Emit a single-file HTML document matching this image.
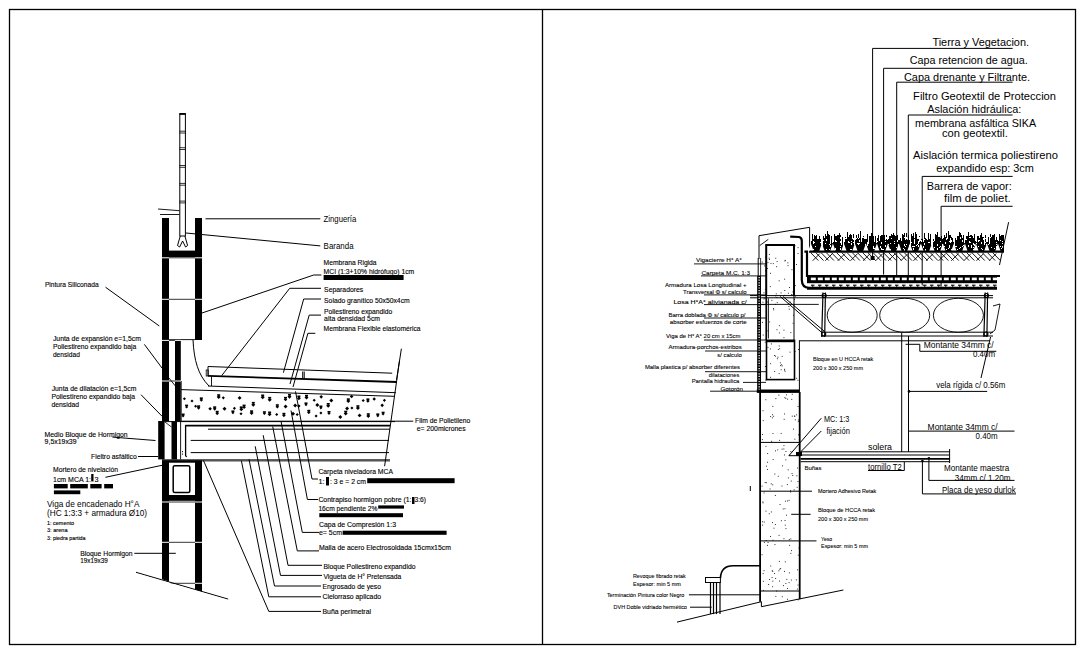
<!DOCTYPE html>
<html><head><meta charset="utf-8"><style>
html,body{margin:0;padding:0;background:#fff;width:1087px;height:656px;overflow:hidden}
svg{display:block}
text{font-family:"Liberation Sans",sans-serif;fill:#000}
.a{stroke:#000;stroke-width:0.12px}
.b{}
.c{stroke:#000;stroke-width:0.08px}
.d{}
</style></head><body>
<svg width="1087" height="656" viewBox="0 0 1087 656">
<rect width="1087" height="656" fill="#fff"/>
<rect x="9.5" y="9.5" width="1066" height="635" fill="none" stroke="#000" stroke-width="1.3" />
<line x1="542.5" y1="9.5" x2="542.5" y2="644.5" stroke="#000" stroke-width="1.3" />
<rect x="179.8" y="113.5" width="5.6" height="122.5" fill="none" stroke="#000" stroke-width="1" />
<line x1="179.5" y1="114.2" x2="185.8" y2="114.2" stroke="#000" stroke-width="1.4" />
<line x1="179.5" y1="131.2" x2="185.8" y2="131.2" stroke="#000" stroke-width="0.8" />
<line x1="179.5" y1="133.0" x2="185.8" y2="133.0" stroke="#000" stroke-width="0.8" />
<line x1="179.5" y1="147.7" x2="185.8" y2="147.7" stroke="#000" stroke-width="0.8" />
<line x1="179.5" y1="149.5" x2="185.8" y2="149.5" stroke="#000" stroke-width="0.8" />
<line x1="179.5" y1="165.5" x2="185.8" y2="165.5" stroke="#000" stroke-width="0.8" />
<line x1="179.5" y1="167.3" x2="185.8" y2="167.3" stroke="#000" stroke-width="0.8" />
<line x1="179.5" y1="183.4" x2="185.8" y2="183.4" stroke="#000" stroke-width="0.8" />
<line x1="179.5" y1="185.20000000000002" x2="185.8" y2="185.20000000000002" stroke="#000" stroke-width="0.8" />
<line x1="179.5" y1="201.1" x2="185.8" y2="201.1" stroke="#000" stroke-width="0.8" />
<line x1="179.5" y1="202.9" x2="185.8" y2="202.9" stroke="#000" stroke-width="0.8" />
<path d="M180.3,236 L177.5,245.5 L179.6,247 L182.6,241 L185.6,247 L187.6,245.5 L184.9,236" stroke="#000" stroke-width="1" fill="none" />
<line x1="158" y1="209" x2="179.5" y2="210.7" stroke="#000" stroke-width="0.9" />
<line x1="160" y1="214.5" x2="179.5" y2="214.5" stroke="#000" stroke-width="0.9" />
<rect x="162" y="218" width="7" height="122" fill="#000" stroke="none" stroke-width="1" />
<rect x="195" y="218" width="7" height="122" fill="#000" stroke="none" stroke-width="1" />
<rect x="169" y="250.6" width="26" height="6.6" fill="#000" stroke="none" stroke-width="1" />
<line x1="162" y1="257.8" x2="202" y2="257.8" stroke="#fff" stroke-width="1" />
<line x1="169" y1="257.8" x2="195" y2="257.8" stroke="#000" stroke-width="0.8" />
<line x1="162" y1="299.3" x2="202" y2="299.3" stroke="#fff" stroke-width="1" />
<line x1="169" y1="299.3" x2="195" y2="299.3" stroke="#000" stroke-width="0.8" />
<rect x="162" y="340" width="7" height="81" fill="#000" stroke="none" stroke-width="1" />
<rect x="175" y="340" width="5.8" height="81" fill="#000" stroke="none" stroke-width="1" />
<line x1="181.2" y1="381" x2="181.2" y2="421" stroke="#000" stroke-width="0.9" />
<line x1="169" y1="339.6" x2="195" y2="339.6" stroke="#000" stroke-width="0.9" />
<line x1="162" y1="340.4" x2="181" y2="340.4" stroke="#fff" stroke-width="1" />
<line x1="169" y1="340.4" x2="175" y2="340.4" stroke="#000" stroke-width="0.8" />
<line x1="162" y1="381.0" x2="181" y2="381.0" stroke="#fff" stroke-width="1" />
<line x1="169" y1="381.0" x2="175" y2="381.0" stroke="#000" stroke-width="0.8" />
<line x1="168.8" y1="377.8" x2="180.4" y2="392.3" stroke="#000" stroke-width="0.9" />
<rect x="158.2" y="421.4" width="6.4" height="38" fill="#000" stroke="none" stroke-width="1" />
<rect x="171.5" y="421.4" width="5.5" height="38" fill="#000" stroke="none" stroke-width="1" />
<line x1="158.2" y1="421.6" x2="395" y2="421.6" stroke="#000" stroke-width="1" />
<line x1="180.6" y1="421" x2="180.6" y2="459.4" stroke="#000" stroke-width="0.9" />
<line x1="164.8" y1="421.9" x2="171.5" y2="427" stroke="#000" stroke-width="0.8" />
<line x1="162" y1="459.8" x2="390" y2="459.8" stroke="#000" stroke-width="0.9" />
<line x1="162" y1="460.9" x2="390" y2="460.9" stroke="#000" stroke-width="0.9" />
<rect x="182" y="451" width="0.9" height="1.2" fill="#000" stroke="none" stroke-width="1" />
<rect x="182" y="453.5" width="0.9" height="1.2" fill="#000" stroke="none" stroke-width="1" />
<polygon points="162,460.3 169,460.3 169,581.5 162,579.3" fill="#000" stroke="none" stroke-width="1"/>
<polygon points="195,460.3 202,460.3 202,591.5 195,589.3" fill="#000" stroke="none" stroke-width="1"/>
<rect x="169" y="460.3" width="26" height="2.4" fill="#000" stroke="none" stroke-width="1" />
<rect x="169" y="495" width="26" height="5.8" fill="#000" stroke="none" stroke-width="1" />
<rect x="173.2" y="465.8" width="16.6" height="26.8" rx="1.5" fill="none" stroke="#000" stroke-width="1.5"/>
<line x1="162" y1="502" x2="202" y2="502" stroke="#fff" stroke-width="1" />
<line x1="169" y1="502" x2="195" y2="502" stroke="#000" stroke-width="0.8" />
<line x1="162" y1="542.3" x2="202" y2="542.3" stroke="#fff" stroke-width="1" />
<line x1="169" y1="542.3" x2="195" y2="542.3" stroke="#000" stroke-width="0.8" />
<line x1="162" y1="583.3" x2="202" y2="583.3" stroke="#fff" stroke-width="1" />
<line x1="169" y1="583.3" x2="195" y2="583.3" stroke="#000" stroke-width="0.8" />
<line x1="136" y1="572.3" x2="228.2" y2="599.1" stroke="#000" stroke-width="1" />
<polygon points="136,573.3 228.2,600.1 228.2,640 136,640" fill="#fff" stroke="none" stroke-width="1"/>
<path d="M193,340 C194,360 198,375 209,386" stroke="#000" stroke-width="1" fill="none" />
<polyline points="208,376 208,366.5 392.2,373.2" stroke="#000" stroke-width="1" fill="none" />
<rect x="206.2" y="370" width="2" height="6" fill="none" stroke="#000" stroke-width="0.8" />
<line x1="208" y1="375.8" x2="397" y2="382" stroke="#000" stroke-width="1.8" />
<line x1="211.5" y1="376" x2="211.5" y2="386" stroke="#000" stroke-width="0.9" />
<line x1="208" y1="386" x2="395.9" y2="392.7" stroke="#000" stroke-width="1" />
<line x1="181" y1="389.6" x2="394.6" y2="396.3" stroke="#000" stroke-width="1" />
<line x1="302.8" y1="371.5" x2="302.8" y2="378.5" stroke="#000" stroke-width="1.2" />
<line x1="304.4" y1="371.5" x2="304.4" y2="378.5" stroke="#000" stroke-width="0.8" />
<line x1="181" y1="421.2" x2="413.2" y2="421.2" stroke="#000" stroke-width="1" />
<line x1="399.5" y1="360.7" x2="384.6" y2="466.2" stroke="#000" stroke-width="1" />
<line x1="185.6" y1="425.6" x2="390" y2="425.6" stroke="#000" stroke-width="1.8" />
<polyline points="185.6,425 185.6,455.5 186.6,457" stroke="#000" stroke-width="1.3" fill="none" />
<line x1="208" y1="429.2" x2="390" y2="429.2" stroke="#000" stroke-width="1" />
<line x1="190.7" y1="440.4" x2="389" y2="440.4" stroke="#000" stroke-width="1" />
<line x1="190.7" y1="452.6" x2="389" y2="452.6" stroke="#000" stroke-width="1" />
<rect x="184.4" y="397.2" width="2.2" height="2.2" transform="rotate(45 184.4 397.2)"/>
<rect x="186.6" y="405.4" width="2.2" height="2.2" transform="rotate(45 186.6 405.4)"/>
<rect x="185.1" y="404.6" width="3" height="1.6"/>
<rect x="183.1" y="414.3" width="2.2" height="2.2" transform="rotate(45 183.1 414.3)"/>
<rect x="181.6" y="413.5" width="3" height="1.6"/>
<rect x="192.0" y="399.5" width="2.2" height="2.2" transform="rotate(45 192.0 399.5)"/>
<rect x="195.6" y="404.7" width="2.2" height="2.2" transform="rotate(45 195.6 404.7)"/>
<rect x="201.3" y="398.2" width="2.5" height="2.5" transform="rotate(45 201.3 398.2)"/>
<rect x="199.8" y="397.4" width="3" height="1.6"/>
<rect x="198.6" y="406.1" width="2.5" height="2.5" transform="rotate(45 198.6 406.1)"/>
<rect x="197.1" y="405.3" width="3" height="1.6"/>
<rect x="210.1" y="406.9" width="2.5" height="2.5" transform="rotate(45 210.1 406.9)"/>
<rect x="218.7" y="395.0" width="2.8" height="2.8" transform="rotate(45 218.7 395.0)"/>
<rect x="217.2" y="394.2" width="3" height="1.6"/>
<rect x="214.7" y="407.1" width="2.5" height="2.5" transform="rotate(45 214.7 407.1)"/>
<rect x="213.2" y="406.3" width="3" height="1.6"/>
<rect x="217.2" y="411.6" width="2.5" height="2.5" transform="rotate(45 217.2 411.6)"/>
<rect x="215.7" y="410.8" width="3" height="1.6"/>
<rect x="223.3" y="396.3" width="2.2" height="2.2" transform="rotate(45 223.3 396.3)"/>
<rect x="224.5" y="406.8" width="2.8" height="2.8" transform="rotate(45 224.5 406.8)"/>
<rect x="234.4" y="406.8" width="2.2" height="2.2" transform="rotate(45 234.4 406.8)"/>
<rect x="232.9" y="411.2" width="2.2" height="2.2" transform="rotate(45 232.9 411.2)"/>
<rect x="231.4" y="410.4" width="3" height="1.6"/>
<rect x="239.6" y="395.9" width="2.8" height="2.8" transform="rotate(45 239.6 395.9)"/>
<rect x="241.3" y="407.2" width="2.8" height="2.8" transform="rotate(45 241.3 407.2)"/>
<rect x="239.8" y="406.4" width="3" height="1.6"/>
<rect x="241.0" y="412.2" width="2.2" height="2.2" transform="rotate(45 241.0 412.2)"/>
<rect x="244.1" y="405.4" width="2.5" height="2.5" transform="rotate(45 244.1 405.4)"/>
<rect x="242.6" y="404.6" width="3" height="1.6"/>
<rect x="253.3" y="402.7" width="2.8" height="2.8" transform="rotate(45 253.3 402.7)"/>
<rect x="251.8" y="401.9" width="3" height="1.6"/>
<rect x="251.6" y="411.1" width="2.8" height="2.8" transform="rotate(45 251.6 411.1)"/>
<rect x="250.1" y="410.3" width="3" height="1.6"/>
<rect x="262.7" y="395.3" width="2.8" height="2.8" transform="rotate(45 262.7 395.3)"/>
<rect x="261.2" y="394.5" width="3" height="1.6"/>
<rect x="264.4" y="412.0" width="2.2" height="2.2" transform="rotate(45 264.4 412.0)"/>
<rect x="262.9" y="411.2" width="3" height="1.6"/>
<rect x="269.7" y="397.7" width="2.8" height="2.8" transform="rotate(45 269.7 397.7)"/>
<rect x="268.2" y="396.9" width="3" height="1.6"/>
<rect x="269.6" y="412.3" width="2.8" height="2.8" transform="rotate(45 269.6 412.3)"/>
<rect x="268.1" y="411.5" width="3" height="1.6"/>
<rect x="277.3" y="405.0" width="2.5" height="2.5" transform="rotate(45 277.3 405.0)"/>
<rect x="275.8" y="404.2" width="3" height="1.6"/>
<rect x="276.7" y="413.0" width="2.2" height="2.2" transform="rotate(45 276.7 413.0)"/>
<rect x="285.5" y="397.7" width="2.5" height="2.5" transform="rotate(45 285.5 397.7)"/>
<rect x="284.0" y="396.9" width="3" height="1.6"/>
<rect x="285.6" y="404.6" width="2.8" height="2.8" transform="rotate(45 285.6 404.6)"/>
<rect x="283.9" y="413.6" width="2.5" height="2.5" transform="rotate(45 283.9 413.6)"/>
<rect x="282.4" y="412.8" width="3" height="1.6"/>
<rect x="289.5" y="394.8" width="2.8" height="2.8" transform="rotate(45 289.5 394.8)"/>
<rect x="288.0" y="394.0" width="3" height="1.6"/>
<rect x="295.2" y="403.6" width="2.8" height="2.8" transform="rotate(45 295.2 403.6)"/>
<rect x="293.0" y="411.7" width="2.8" height="2.8" transform="rotate(45 293.0 411.7)"/>
<rect x="298.9" y="396.3" width="2.8" height="2.8" transform="rotate(45 298.9 396.3)"/>
<rect x="297.4" y="395.5" width="3" height="1.6"/>
<rect x="298.8" y="404.2" width="2.5" height="2.5" transform="rotate(45 298.8 404.2)"/>
<rect x="297.2" y="412.9" width="2.2" height="2.2" transform="rotate(45 297.2 412.9)"/>
<rect x="306.5" y="395.6" width="2.8" height="2.8" transform="rotate(45 306.5 395.6)"/>
<rect x="305.0" y="394.8" width="3" height="1.6"/>
<rect x="306.0" y="403.2" width="2.2" height="2.2" transform="rotate(45 306.0 403.2)"/>
<rect x="304.5" y="402.4" width="3" height="1.6"/>
<rect x="308.8" y="410.6" width="2.5" height="2.5" transform="rotate(45 308.8 410.6)"/>
<rect x="307.3" y="409.8" width="3" height="1.6"/>
<rect x="314.2" y="398.7" width="2.2" height="2.2" transform="rotate(45 314.2 398.7)"/>
<rect x="317.3" y="403.1" width="2.8" height="2.8" transform="rotate(45 317.3 403.1)"/>
<rect x="316.1" y="414.5" width="2.2" height="2.2" transform="rotate(45 316.1 414.5)"/>
<rect x="321.2" y="395.1" width="2.5" height="2.5" transform="rotate(45 321.2 395.1)"/>
<rect x="320.9" y="406.3" width="2.2" height="2.2" transform="rotate(45 320.9 406.3)"/>
<rect x="319.4" y="405.5" width="3" height="1.6"/>
<rect x="320.9" y="411.5" width="2.2" height="2.2" transform="rotate(45 320.9 411.5)"/>
<rect x="331.3" y="398.5" width="2.8" height="2.8" transform="rotate(45 331.3 398.5)"/>
<rect x="328.2" y="403.8" width="2.8" height="2.8" transform="rotate(45 328.2 403.8)"/>
<rect x="326.7" y="403.0" width="3" height="1.6"/>
<rect x="329.0" y="411.8" width="2.2" height="2.2" transform="rotate(45 329.0 411.8)"/>
<rect x="327.5" y="411.0" width="3" height="1.6"/>
<rect x="340.3" y="415.0" width="2.8" height="2.8" transform="rotate(45 340.3 415.0)"/>
<rect x="348.3" y="399.1" width="2.8" height="2.8" transform="rotate(45 348.3 399.1)"/>
<rect x="346.8" y="398.3" width="3" height="1.6"/>
<rect x="347.1" y="406.5" width="2.8" height="2.8" transform="rotate(45 347.1 406.5)"/>
<rect x="345.7" y="411.5" width="2.8" height="2.8" transform="rotate(45 345.7 411.5)"/>
<rect x="344.2" y="410.7" width="3" height="1.6"/>
<rect x="351.6" y="394.8" width="2.5" height="2.5" transform="rotate(45 351.6 394.8)"/>
<rect x="351.9" y="406.4" width="2.2" height="2.2" transform="rotate(45 351.9 406.4)"/>
<rect x="363.2" y="399.0" width="2.2" height="2.2" transform="rotate(45 363.2 399.0)"/>
<rect x="357.9" y="406.0" width="2.8" height="2.8" transform="rotate(45 357.9 406.0)"/>
<rect x="356.4" y="405.2" width="3" height="1.6"/>
<rect x="359.6" y="413.4" width="2.8" height="2.8" transform="rotate(45 359.6 413.4)"/>
<rect x="367.9" y="399.2" width="2.5" height="2.5" transform="rotate(45 367.9 399.2)"/>
<rect x="366.4" y="398.4" width="3" height="1.6"/>
<rect x="368.3" y="414.0" width="2.8" height="2.8" transform="rotate(45 368.3 414.0)"/>
<rect x="366.8" y="413.2" width="3" height="1.6"/>
<rect x="374.2" y="397.2" width="2.5" height="2.5" transform="rotate(45 374.2 397.2)"/>
<rect x="377.8" y="414.2" width="2.2" height="2.2" transform="rotate(45 377.8 414.2)"/>
<rect x="376.3" y="413.4" width="3" height="1.6"/>
<rect x="384.4" y="398.8" width="2.2" height="2.2" transform="rotate(45 384.4 398.8)"/>
<rect x="382.2" y="403.6" width="2.5" height="2.5" transform="rotate(45 382.2 403.6)"/>
<rect x="383.1" y="412.5" width="2.2" height="2.2" transform="rotate(45 383.1 412.5)"/>
<rect x="381.6" y="411.7" width="3" height="1.6"/>
<line x1="205.5" y1="218.8" x2="320.3" y2="218.8" stroke="#000" stroke-width="1" />
<line x1="186" y1="233" x2="320.3" y2="245.9" stroke="#000" stroke-width="1" />
<polyline points="202,313 313.7,275 321.4,275" stroke="#000" stroke-width="1" fill="none" />
<polyline points="221.7,375.6 289.7,288.3 321,288.3" stroke="#000" stroke-width="1" fill="none" />
<polyline points="283.4,372.7 303.7,299 321,299" stroke="#000" stroke-width="1" fill="none" />
<polyline points="290,384 309.2,315.1 321,315.1" stroke="#000" stroke-width="1" fill="none" />
<polyline points="293,387 307.9,333.3 315.3,333.3" stroke="#000" stroke-width="1" fill="none" />
<line x1="401.4" y1="348.7" x2="396.5" y2="380" stroke="#000" stroke-width="1" />
<polyline points="295.5,391.4 312,479 318,479" stroke="#000" stroke-width="1" fill="none" />
<polyline points="291,410.5 307.4,499.5 318,499.5" stroke="#000" stroke-width="1" fill="none" />
<polyline points="281,421.2 302.3,532.4 319,532.4" stroke="#000" stroke-width="1" fill="none" />
<polyline points="272.7,426.5 297.3,550.9 319,550.9" stroke="#000" stroke-width="1" fill="none" />
<polyline points="263.2,435.2 288,565.3 322,565.3" stroke="#000" stroke-width="1" fill="none" />
<polyline points="255.2,446.3 280.5,575.4 322,575.4" stroke="#000" stroke-width="1" fill="none" />
<polyline points="249,459.3 274.5,586 321,586" stroke="#000" stroke-width="1" fill="none" />
<polyline points="241.4,460.8 268.8,596.8 321,596.8" stroke="#000" stroke-width="1" fill="none" />
<polyline points="203.4,460.3 268.8,611.4 321,611.4" stroke="#000" stroke-width="1" fill="none" />
<line x1="105.5" y1="287.2" x2="159.3" y2="326" stroke="#000" stroke-width="1" />
<line x1="144.4" y1="344.4" x2="162.3" y2="368.4" stroke="#000" stroke-width="1" />
<line x1="141" y1="394.7" x2="162.3" y2="416.5" stroke="#000" stroke-width="1" />
<line x1="112.4" y1="437.1" x2="155.5" y2="440.5" stroke="#000" stroke-width="1" />
<line x1="138" y1="456.5" x2="158" y2="456.5" stroke="#000" stroke-width="1" />
<line x1="105.4" y1="477.3" x2="162" y2="465.3" stroke="#000" stroke-width="1" />
<line x1="134.3" y1="553.3" x2="175.8" y2="553.3" stroke="#000" stroke-width="1" />
<text class="d" x="323.6" y="222" font-size="8.4" textLength="32.7" lengthAdjust="spacingAndGlyphs" >Zinguería</text>
<text class="d" x="323.6" y="249.3" font-size="8.2" textLength="30.0" lengthAdjust="spacingAndGlyphs" >Baranda</text>
<text class="a" x="323.6" y="265.3" font-size="6.8" textLength="53.0" lengthAdjust="spacingAndGlyphs" >Membrana Rigida</text>
<text class="a" x="323.6" y="273.5" font-size="6.8" textLength="90.6" lengthAdjust="spacingAndGlyphs" >MCI (1:3+10% hidrófugo) 1cm</text>
<rect x="323.6" y="275" width="80" height="5" fill="#000" stroke="none" stroke-width="1" />
<text class="a" x="324.1" y="292.3" font-size="6.8" textLength="39.2" lengthAdjust="spacingAndGlyphs" >Separadores</text>
<text class="a" x="324.1" y="302.6" font-size="6.8" textLength="85.6" lengthAdjust="spacingAndGlyphs" >Solado granítico 50x50x4cm</text>
<text class="a" x="324.1" y="313.6" font-size="6.8" textLength="68.2" lengthAdjust="spacingAndGlyphs" >Poliestireno expandido</text>
<text class="a" x="324.1" y="321.2" font-size="6.8" textLength="56.0" lengthAdjust="spacingAndGlyphs" >alta densidad 5cm</text>
<text class="a" x="323.6" y="331.3" font-size="6.8" textLength="97.0" lengthAdjust="spacingAndGlyphs" >Membrana Flexible elastomérica</text>
<text class="a" x="44.9" y="286.6" font-size="6.8" textLength="53.7" lengthAdjust="spacingAndGlyphs" >Pintura Siliconada</text>
<text class="a" x="52.9" y="340.6" font-size="6.8" textLength="88.0" lengthAdjust="spacingAndGlyphs" >Junta de expansión e=1,5cm</text>
<text class="a" x="52.9" y="348.8" font-size="6.8" textLength="83.5" lengthAdjust="spacingAndGlyphs" >Poliestireno expandido baja</text>
<text class="a" x="52.9" y="356.6" font-size="6.8" textLength="27.0" lengthAdjust="spacingAndGlyphs" >densidad</text>
<text class="a" x="51.7" y="390.9" font-size="6.8" textLength="84.7" lengthAdjust="spacingAndGlyphs" >Junta de dilatación e=1,5cm</text>
<text class="a" x="51.5" y="399" font-size="6.8" textLength="83.5" lengthAdjust="spacingAndGlyphs" >Poliestireno expandido baja</text>
<text class="a" x="51.5" y="406.9" font-size="6.8" textLength="27.5" lengthAdjust="spacingAndGlyphs" >densidad</text>
<text class="a" x="44.6" y="436.5" font-size="6.8" textLength="83.0" lengthAdjust="spacingAndGlyphs" >Medio Bloque de Hormigon</text>
<text class="a" x="44.6" y="444" font-size="6.8" textLength="32.0" lengthAdjust="spacingAndGlyphs" >9,5x19x39</text>
<text class="a" x="91" y="459.3" font-size="6.8" textLength="45.8" lengthAdjust="spacingAndGlyphs" >Fieltro asfáltico</text>
<text class="a" x="53" y="471.6" font-size="6.8" textLength="65.0" lengthAdjust="spacingAndGlyphs" >Mortero de nivelación</text>
<text class="a" x="53" y="481.5" font-size="6.8" textLength="38.0" lengthAdjust="spacingAndGlyphs" >1cm MCA 1:</text>
<rect x="91.2" y="474" width="2.3" height="7.4" fill="#000" stroke="none" stroke-width="1" />
<text class="a" x="94.6" y="481.5" font-size="6.8" textLength="4.0" lengthAdjust="spacingAndGlyphs" >3</text>
<rect x="53.9" y="484" width="13.800000000000004" height="4.4" fill="#000" stroke="none" stroke-width="1" />
<rect x="70.2" y="484" width="17.599999999999994" height="4.4" fill="#000" stroke="none" stroke-width="1" />
<rect x="90.3" y="484" width="11.299999999999997" height="4.4" fill="#000" stroke="none" stroke-width="1" />
<rect x="104.2" y="484" width="8.799999999999997" height="4.4" fill="#000" stroke="none" stroke-width="1" />
<rect x="53.9" y="490.4" width="26.4" height="3.8" fill="#000" stroke="none" stroke-width="1" />
<text class="d" x="47" y="507.2" font-size="9.8" textLength="92.4" lengthAdjust="spacingAndGlyphs" >Viga de encadenado H°A</text>
<text class="d" x="47" y="516.3" font-size="9.8" textLength="100.0" lengthAdjust="spacingAndGlyphs" >(HC 1:3:3 + armadura Ø10)</text>
<text class="a" x="47" y="524.8" font-size="4.8" textLength="27.0" lengthAdjust="spacingAndGlyphs" >1: cemento</text>
<text class="a" x="47" y="532.4" font-size="4.8" textLength="20.5" lengthAdjust="spacingAndGlyphs" >3: arena</text>
<text class="a" x="47" y="539.8" font-size="4.8" textLength="38.5" lengthAdjust="spacingAndGlyphs" >3: piedra partida</text>
<text class="a" x="80.3" y="555.8" font-size="6.8" textLength="52.3" lengthAdjust="spacingAndGlyphs" >Bloque Hormigon</text>
<text class="a" x="80.3" y="563.3" font-size="6.8" textLength="27.5" lengthAdjust="spacingAndGlyphs" >19x19x39</text>
<text class="a" x="415" y="423" font-size="6.8" textLength="55.2" lengthAdjust="spacingAndGlyphs" >Film de Polietileno</text>
<text class="a" x="416.8" y="431.3" font-size="6.8" textLength="48.8" lengthAdjust="spacingAndGlyphs" >e= 200micrones</text>
<text class="a" x="318.4" y="474.2" font-size="6.8" textLength="74.6" lengthAdjust="spacingAndGlyphs" >Carpeta niveladora MCA</text>
<text class="a" x="318.4" y="484" font-size="6.8" textLength="6.0" lengthAdjust="spacingAndGlyphs" >1:</text>
<rect x="326" y="477" width="3" height="8.5" fill="#000" stroke="none" stroke-width="1" />
<text class="a" x="330" y="484" font-size="6.8" textLength="36.0" lengthAdjust="spacingAndGlyphs" >: 3 e = 2 cm</text>
<rect x="367.2" y="478.2" width="87.4" height="5" fill="#000" stroke="none" stroke-width="1" />
<text class="a" x="318.4" y="501.8" font-size="6.8" textLength="93.0" lengthAdjust="spacingAndGlyphs" >Contrapiso hormigon pobre (1:</text>
<rect x="412" y="497" width="2.5" height="7" fill="#000" stroke="none" stroke-width="1" />
<text class="a" x="414.5" y="501.8" font-size="6.8" textLength="11.5" lengthAdjust="spacingAndGlyphs" >3:6)</text>
<text class="a" x="318.4" y="511" font-size="6.8" textLength="59.0" lengthAdjust="spacingAndGlyphs" >16cm pendiente 2%</text>
<rect x="378.2" y="505.4" width="25.8" height="3.2" fill="#000" stroke="none" stroke-width="1" />
<rect x="319.3" y="513.2" width="83.7" height="4" fill="#000" stroke="none" stroke-width="1" />
<text class="a" x="319" y="527.4" font-size="6.8" textLength="77.0" lengthAdjust="spacingAndGlyphs" >Capa de Compresión  1:3</text>
<text class="a" x="319" y="534.8" font-size="6.8" textLength="23.0" lengthAdjust="spacingAndGlyphs" >e= 5cm</text>
<rect x="342.6" y="530.7" width="104" height="4.1" fill="#000" stroke="none" stroke-width="1" />
<text class="a" x="319" y="550" font-size="6.8" textLength="132.0" lengthAdjust="spacingAndGlyphs" >Malla de acero Electrosoldada 15cmx15cm</text>
<text class="a" x="323.5" y="568.7" font-size="6.8" textLength="92.0" lengthAdjust="spacingAndGlyphs" >Bloque Poliestireno expandido</text>
<text class="a" x="323.5" y="579.4" font-size="6.8" textLength="77.8" lengthAdjust="spacingAndGlyphs" >Vigueta de H° Pretensada</text>
<text class="a" x="322.5" y="588.8" font-size="6.8" textLength="58.5" lengthAdjust="spacingAndGlyphs" >Engrosado de yeso</text>
<text class="a" x="322.5" y="598.8" font-size="6.8" textLength="58.5" lengthAdjust="spacingAndGlyphs" >Cielorraso aplicado</text>
<text class="a" x="322.5" y="614" font-size="6.8" textLength="48.5" lengthAdjust="spacingAndGlyphs" >Buña perimetral</text>
<text class="b" x="932.4" y="46.4" font-size="11.4" textLength="96.6" lengthAdjust="spacingAndGlyphs" >Tierra y Vegetacion.</text>
<text class="b" x="909.8" y="64.4" font-size="11.4" textLength="117.9" lengthAdjust="spacingAndGlyphs" >Capa retencion de agua.</text>
<text class="b" x="904" y="81.2" font-size="11.4" textLength="126.0" lengthAdjust="spacingAndGlyphs" >Capa drenante y Filtrante.</text>
<text class="b" x="913.1" y="99.6" font-size="11.4" textLength="142.9" lengthAdjust="spacingAndGlyphs" >Filtro Geotextil de Proteccion</text>
<text class="b" x="927.2" y="113.1" font-size="11.4" textLength="94.1" lengthAdjust="spacingAndGlyphs" >Aslación hidráulica:</text>
<text class="b" x="915" y="126.6" font-size="11.4" textLength="121.2" lengthAdjust="spacingAndGlyphs" >membrana asfáltica SIKA</text>
<text class="b" x="942" y="137.2" font-size="11.4" textLength="65.8" lengthAdjust="spacingAndGlyphs" >con geotextil.</text>
<text class="b" x="913.1" y="159" font-size="11.4" textLength="144.9" lengthAdjust="spacingAndGlyphs" >Aislación termica poliestireno</text>
<text class="b" x="936.3" y="172.1" font-size="11.4" textLength="97.6" lengthAdjust="spacingAndGlyphs" >expandido esp: 3cm</text>
<text class="b" x="926.7" y="190.3" font-size="11.4" textLength="85.0" lengthAdjust="spacingAndGlyphs" >Barrera de vapor:</text>
<text class="b" x="944" y="202.3" font-size="11.4" textLength="66.7" lengthAdjust="spacingAndGlyphs" >film de poliet.</text>
<polyline points="872.6,257.8 872.6,48.4 1012.6,48.4" stroke="#000" stroke-width="1" fill="none" />
<polyline points="883.6,274.6 883.6,68.3 1012.6,68.3" stroke="#000" stroke-width="1" fill="none" />
<polyline points="896.7,279.4 896.7,82.2 1012.6,82.2" stroke="#000" stroke-width="1" fill="none" />
<polyline points="908.3,281.8 908.3,115 1012.6,115" stroke="#000" stroke-width="1" fill="none" />
<polyline points="922.2,285.4 922.2,176.4 1012.6,176.4" stroke="#000" stroke-width="1" fill="none" />
<polyline points="941.1,286.6 941.1,206.3 1012.6,206.3" stroke="#000" stroke-width="1" fill="none" />
<rect x="870.6" y="256" width="4" height="4" fill="#000" stroke="none" stroke-width="1" />
<polyline points="759,259 759,235.7 809.6,227.3 809.6,252.6" stroke="#000" stroke-width="1" fill="none" />
<polyline points="766.2,296 766.2,245.1 794,245.1 794,296" stroke="#000" stroke-width="2" fill="none" />
<path d="M790.2,236.6 L799,237 Q801.8,237.5 801.8,241 L801.8,280 Q802,287.6 809,287.8 L997,287.8" stroke="#000" stroke-width="2.2" fill="none" />
<path d="M804.4,251.6 L807,251.6 L807,276 L1000,276" stroke="#000" stroke-width="2.2" fill="none" />
<line x1="807" y1="289" x2="997" y2="289" stroke="#000" stroke-width="1.6" />
<rect x="807" y="275" width="190" height="8.2" fill="#000" stroke="none" stroke-width="1" />
<rect x="810.8" y="277.6" width="5.0" height="2.6" fill="#fff" stroke="none" stroke-width="1" />
<rect x="817.8" y="277.6" width="5.0" height="2.6" fill="#fff" stroke="none" stroke-width="1" />
<rect x="824.8" y="277.6" width="5.0" height="2.6" fill="#fff" stroke="none" stroke-width="1" />
<rect x="831.8" y="277.6" width="5.0" height="2.6" fill="#fff" stroke="none" stroke-width="1" />
<rect x="838.8" y="277.6" width="5.0" height="2.6" fill="#fff" stroke="none" stroke-width="1" />
<rect x="845.8" y="277.6" width="5.0" height="2.6" fill="#fff" stroke="none" stroke-width="1" />
<rect x="852.8" y="277.6" width="5.0" height="2.6" fill="#fff" stroke="none" stroke-width="1" />
<rect x="859.8" y="277.6" width="5.0" height="2.6" fill="#fff" stroke="none" stroke-width="1" />
<rect x="866.8" y="277.6" width="5.0" height="2.6" fill="#fff" stroke="none" stroke-width="1" />
<rect x="873.8" y="277.6" width="5.0" height="2.6" fill="#fff" stroke="none" stroke-width="1" />
<rect x="880.8" y="277.6" width="5.0" height="2.6" fill="#fff" stroke="none" stroke-width="1" />
<rect x="887.8" y="277.6" width="5.0" height="2.6" fill="#fff" stroke="none" stroke-width="1" />
<rect x="894.8" y="277.6" width="5.0" height="2.6" fill="#fff" stroke="none" stroke-width="1" />
<rect x="901.8" y="277.6" width="5.0" height="2.6" fill="#fff" stroke="none" stroke-width="1" />
<rect x="908.8" y="277.6" width="5.0" height="2.6" fill="#fff" stroke="none" stroke-width="1" />
<rect x="915.8" y="277.6" width="5.0" height="2.6" fill="#fff" stroke="none" stroke-width="1" />
<rect x="922.8" y="277.6" width="5.0" height="2.6" fill="#fff" stroke="none" stroke-width="1" />
<rect x="929.8" y="277.6" width="5.0" height="2.6" fill="#fff" stroke="none" stroke-width="1" />
<rect x="936.8" y="277.6" width="5.0" height="2.6" fill="#fff" stroke="none" stroke-width="1" />
<rect x="943.8" y="277.6" width="5.0" height="2.6" fill="#fff" stroke="none" stroke-width="1" />
<rect x="950.8" y="277.6" width="5.0" height="2.6" fill="#fff" stroke="none" stroke-width="1" />
<rect x="957.8" y="277.6" width="5.0" height="2.6" fill="#fff" stroke="none" stroke-width="1" />
<rect x="964.8" y="277.6" width="5.0" height="2.6" fill="#fff" stroke="none" stroke-width="1" />
<rect x="971.8" y="277.6" width="5.0" height="2.6" fill="#fff" stroke="none" stroke-width="1" />
<rect x="978.8" y="277.6" width="5.0" height="2.6" fill="#fff" stroke="none" stroke-width="1" />
<rect x="985.8" y="277.6" width="5.0" height="2.6" fill="#fff" stroke="none" stroke-width="1" />
<rect x="992.8" y="277.6" width="5.0" height="2.6" fill="#fff" stroke="none" stroke-width="1" />
<line x1="811" y1="285.2" x2="814.5" y2="285.2" stroke="#000" stroke-width="1.1" />
<line x1="812.75" y1="285.2" x2="812.75" y2="287.4" stroke="#000" stroke-width="0.9" />
<line x1="818" y1="285.2" x2="821.5" y2="285.2" stroke="#000" stroke-width="1.1" />
<line x1="819.75" y1="285.2" x2="819.75" y2="287.4" stroke="#000" stroke-width="0.9" />
<line x1="825" y1="285.2" x2="828.5" y2="285.2" stroke="#000" stroke-width="1.1" />
<line x1="826.75" y1="285.2" x2="826.75" y2="287.4" stroke="#000" stroke-width="0.9" />
<line x1="832" y1="285.2" x2="835.5" y2="285.2" stroke="#000" stroke-width="1.1" />
<line x1="833.75" y1="285.2" x2="833.75" y2="287.4" stroke="#000" stroke-width="0.9" />
<line x1="839" y1="285.2" x2="842.5" y2="285.2" stroke="#000" stroke-width="1.1" />
<line x1="840.75" y1="285.2" x2="840.75" y2="287.4" stroke="#000" stroke-width="0.9" />
<line x1="846" y1="285.2" x2="849.5" y2="285.2" stroke="#000" stroke-width="1.1" />
<line x1="847.75" y1="285.2" x2="847.75" y2="287.4" stroke="#000" stroke-width="0.9" />
<line x1="853" y1="285.2" x2="856.5" y2="285.2" stroke="#000" stroke-width="1.1" />
<line x1="854.75" y1="285.2" x2="854.75" y2="287.4" stroke="#000" stroke-width="0.9" />
<line x1="860" y1="285.2" x2="863.5" y2="285.2" stroke="#000" stroke-width="1.1" />
<line x1="861.75" y1="285.2" x2="861.75" y2="287.4" stroke="#000" stroke-width="0.9" />
<line x1="867" y1="285.2" x2="870.5" y2="285.2" stroke="#000" stroke-width="1.1" />
<line x1="868.75" y1="285.2" x2="868.75" y2="287.4" stroke="#000" stroke-width="0.9" />
<line x1="874" y1="285.2" x2="877.5" y2="285.2" stroke="#000" stroke-width="1.1" />
<line x1="875.75" y1="285.2" x2="875.75" y2="287.4" stroke="#000" stroke-width="0.9" />
<line x1="881" y1="285.2" x2="884.5" y2="285.2" stroke="#000" stroke-width="1.1" />
<line x1="882.75" y1="285.2" x2="882.75" y2="287.4" stroke="#000" stroke-width="0.9" />
<line x1="888" y1="285.2" x2="891.5" y2="285.2" stroke="#000" stroke-width="1.1" />
<line x1="889.75" y1="285.2" x2="889.75" y2="287.4" stroke="#000" stroke-width="0.9" />
<line x1="895" y1="285.2" x2="898.5" y2="285.2" stroke="#000" stroke-width="1.1" />
<line x1="896.75" y1="285.2" x2="896.75" y2="287.4" stroke="#000" stroke-width="0.9" />
<line x1="902" y1="285.2" x2="905.5" y2="285.2" stroke="#000" stroke-width="1.1" />
<line x1="903.75" y1="285.2" x2="903.75" y2="287.4" stroke="#000" stroke-width="0.9" />
<line x1="909" y1="285.2" x2="912.5" y2="285.2" stroke="#000" stroke-width="1.1" />
<line x1="910.75" y1="285.2" x2="910.75" y2="287.4" stroke="#000" stroke-width="0.9" />
<line x1="916" y1="285.2" x2="919.5" y2="285.2" stroke="#000" stroke-width="1.1" />
<line x1="917.75" y1="285.2" x2="917.75" y2="287.4" stroke="#000" stroke-width="0.9" />
<line x1="923" y1="285.2" x2="926.5" y2="285.2" stroke="#000" stroke-width="1.1" />
<line x1="924.75" y1="285.2" x2="924.75" y2="287.4" stroke="#000" stroke-width="0.9" />
<line x1="930" y1="285.2" x2="933.5" y2="285.2" stroke="#000" stroke-width="1.1" />
<line x1="931.75" y1="285.2" x2="931.75" y2="287.4" stroke="#000" stroke-width="0.9" />
<line x1="937" y1="285.2" x2="940.5" y2="285.2" stroke="#000" stroke-width="1.1" />
<line x1="938.75" y1="285.2" x2="938.75" y2="287.4" stroke="#000" stroke-width="0.9" />
<line x1="944" y1="285.2" x2="947.5" y2="285.2" stroke="#000" stroke-width="1.1" />
<line x1="945.75" y1="285.2" x2="945.75" y2="287.4" stroke="#000" stroke-width="0.9" />
<line x1="951" y1="285.2" x2="954.5" y2="285.2" stroke="#000" stroke-width="1.1" />
<line x1="952.75" y1="285.2" x2="952.75" y2="287.4" stroke="#000" stroke-width="0.9" />
<line x1="958" y1="285.2" x2="961.5" y2="285.2" stroke="#000" stroke-width="1.1" />
<line x1="959.75" y1="285.2" x2="959.75" y2="287.4" stroke="#000" stroke-width="0.9" />
<line x1="965" y1="285.2" x2="968.5" y2="285.2" stroke="#000" stroke-width="1.1" />
<line x1="966.75" y1="285.2" x2="966.75" y2="287.4" stroke="#000" stroke-width="0.9" />
<line x1="972" y1="285.2" x2="975.5" y2="285.2" stroke="#000" stroke-width="1.1" />
<line x1="973.75" y1="285.2" x2="973.75" y2="287.4" stroke="#000" stroke-width="0.9" />
<line x1="979" y1="285.2" x2="982.5" y2="285.2" stroke="#000" stroke-width="1.1" />
<line x1="980.75" y1="285.2" x2="980.75" y2="287.4" stroke="#000" stroke-width="0.9" />
<line x1="986" y1="285.2" x2="989.5" y2="285.2" stroke="#000" stroke-width="1.1" />
<line x1="987.75" y1="285.2" x2="987.75" y2="287.4" stroke="#000" stroke-width="0.9" />
<line x1="993" y1="285.2" x2="996.5" y2="285.2" stroke="#000" stroke-width="1.1" />
<line x1="994.75" y1="285.2" x2="994.75" y2="287.4" stroke="#000" stroke-width="0.9" />
<path d="M811.0,253 l7,7.2 M816.2,253 l7,7.2 M821.4,253 l7,7.2 M826.6,253 l7,7.2 M831.8,253 l7,7.2 M837.0,253 l7,7.2 M842.2,253 l7,7.2 M847.4,253 l7,7.2 M852.6,253 l7,7.2 M857.8,253 l7,7.2 M863.0,253 l7,7.2 M868.2,253 l7,7.2 M873.4,253 l7,7.2 M878.6,253 l7,7.2 M883.8,253 l7,7.2 M889.0,253 l7,7.2 M894.2,253 l7,7.2 M899.4,253 l7,7.2 M904.6,253 l7,7.2 M909.8,253 l7,7.2 M915.0,253 l7,7.2 M920.2,253 l7,7.2 M925.4,253 l7,7.2 M930.6,253 l7,7.2 M935.8,253 l7,7.2 M941.0,253 l7,7.2 M946.2,253 l7,7.2 M951.4,253 l7,7.2 M956.6,253 l7,7.2 M961.8,253 l7,7.2 M967.0,253 l7,7.2 M972.2,253 l7,7.2 M977.4,253 l7,7.2 M982.6,253 l7,7.2 M987.8,253 l7,7.2 M993.0,253 l7,7.2 M813.0,260.4 l6.5,-6.5 M825.6,260.4 l6.5,-6.5 M838.2,260.4 l6.5,-6.5 M850.8,260.4 l6.5,-6.5 M863.4,260.4 l6.5,-6.5 M876.0,260.4 l6.5,-6.5 M888.6,260.4 l6.5,-6.5 M901.2,260.4 l6.5,-6.5 M913.8,260.4 l6.5,-6.5 M926.4,260.4 l6.5,-6.5 M939.0,260.4 l6.5,-6.5 M951.6,260.4 l6.5,-6.5 M964.2,260.4 l6.5,-6.5 M976.8,260.4 l6.5,-6.5 M989.4,260.4 l6.5,-6.5" stroke="#000" stroke-width="0.9" fill="none" stroke-linecap="square"/>
<path d="M811.5,251.4 V240.4 M812.5,251.4 V233.7 M813.5,251.4 V238.1 M814.5,251.4 V235.1 M815.5,251.4 V235.6 M816.5,251.4 V235.0 M817.5,251.4 V237.0 M818.5,251.4 V238.7 M819.5,251.4 V236.1 M820.5,251.4 V238.2 M821.5,251.4 V244.6 M822.5,251.4 V245.7 M823.5,251.4 V235.9 M824.5,251.4 V238.1 M825.5,251.4 V233.7 M826.5,251.4 V236.3 M827.5,251.4 V230.9 M828.5,251.4 V233.6 M829.5,251.4 V234.5 M830.5,251.4 V244.4 M831.5,251.4 V236.1 M832.5,251.4 V241.7 M833.5,251.4 V242.2 M834.5,251.4 V233.8 M835.5,251.4 V236.0 M836.5,251.4 V235.6 M837.5,251.4 V234.9 M838.5,251.4 V235.0 M839.5,251.4 V233.1 M840.5,251.4 V235.4 M841.5,251.4 V245.3 M842.5,251.4 V237.1 M843.5,251.4 V246.6 M844.5,251.4 V241.8 M845.5,251.4 V237.4 M846.5,251.4 V239.4 M847.5,251.4 V231.5 M848.5,251.4 V237.0 M849.5,251.4 V234.5 M850.5,251.4 V233.6 M851.5,251.4 V235.4 M852.5,251.4 V239.4 M853.5,251.4 V234.4 M854.5,251.4 V245.3 M855.5,251.4 V239.8 M856.5,251.4 V235.2 M857.5,251.4 V238.4 M858.5,251.4 V233.7 M859.5,251.4 V238.0 M860.5,251.4 V231.3 M861.5,251.4 V241.5 M862.5,251.4 V237.5 M863.5,251.4 V236.4 M864.5,251.4 V239.1 M865.5,251.4 V239.1 M866.5,251.4 V239.2 M867.5,251.4 V234.2 M868.5,251.4 V244.2 M869.5,251.4 V235.6 M870.5,251.4 V235.9 M871.5,251.4 V232.6 M872.5,251.4 V233.3 M873.5,251.4 V235.8 M874.5,251.4 V241.9 M875.5,251.4 V236.2 M876.5,251.4 V242.8 M877.5,251.4 V238.4 M878.5,251.4 V234.9 M879.5,251.4 V240.9 M880.5,251.4 V235.8 M881.5,251.4 V235.2 M882.5,251.4 V235.3 M883.5,251.4 V235.2 M884.5,251.4 V234.5 M885.5,251.4 V240.1 M886.5,251.4 V234.6 M887.5,251.4 V240.1 M888.5,251.4 V238.8 M889.5,251.4 V236.3 M890.5,251.4 V236.3 M891.5,251.4 V234.0 M892.5,251.4 V234.5 M893.5,251.4 V232.6 M894.5,251.4 V234.8 M895.5,251.4 V235.5 M896.5,251.4 V235.9 M897.5,251.4 V234.6 M898.5,251.4 V240.1 M899.5,251.4 V240.4 M900.5,251.4 V237.5 M901.5,251.4 V240.3 M902.5,251.4 V233.7 M903.5,251.4 V235.3 M904.5,251.4 V232.6 M905.5,251.4 V240.2 M906.5,251.4 V232.8 M907.5,251.4 V239.6 M908.5,251.4 V234.9 M909.5,251.4 V239.4 M910.5,251.4 V243.7 M911.5,251.4 V234.3 M912.5,251.4 V236.4 M913.5,251.4 V233.3 M914.5,251.4 V237.8 M915.5,251.4 V231.6 M916.5,251.4 V234.2 M917.5,251.4 V239.0 M918.5,251.4 V239.2 M919.5,251.4 V236.0 M920.5,251.4 V241.2 M921.5,251.4 V238.6 M922.5,251.4 V239.0 M923.5,251.4 V241.6 M924.5,251.4 V233.3 M925.5,251.4 V238.2 M926.5,251.4 V238.8 M927.5,251.4 V239.5 M928.5,251.4 V233.1 M929.5,251.4 V237.6 M930.5,251.4 V234.3 M931.5,251.4 V244.7 M932.5,251.4 V246.0 M933.5,251.4 V238.5 M934.5,251.4 V238.8 M935.5,251.4 V233.6 M936.5,251.4 V235.0 M937.5,251.4 V231.8 M938.5,251.4 V237.0 M939.5,251.4 V237.0 M940.5,251.4 V237.6 M941.5,251.4 V236.2 M942.5,251.4 V239.4 M943.5,251.4 V238.2 M944.5,251.4 V235.0 M945.5,251.4 V237.2 M946.5,251.4 V233.0 M947.5,251.4 V237.4 M948.5,251.4 V231.0 M949.5,251.4 V235.0 M950.5,251.4 V234.5 M951.5,251.4 V236.5 M952.5,251.4 V237.5 M953.5,251.4 V240.9 M954.5,251.4 V245.6 M955.5,251.4 V237.6 M956.5,251.4 V239.6 M957.5,251.4 V235.8 M958.5,251.4 V236.1 M959.5,251.4 V231.6 M960.5,251.4 V233.1 M961.5,251.4 V235.3 M962.5,251.4 V238.0 M963.5,251.4 V234.6 M964.5,251.4 V241.0 M965.5,251.4 V239.9 M966.5,251.4 V236.2 M967.5,251.4 V236.3 M968.5,251.4 V232.1 M969.5,251.4 V236.0 M970.5,251.4 V234.5 M971.5,251.4 V235.1 M972.5,251.4 V235.8 M973.5,251.4 V238.1 M974.5,251.4 V234.3 M975.5,251.4 V241.2 M976.5,251.4 V242.1 M977.5,251.4 V236.0 M978.5,251.4 V236.2 M979.5,251.4 V238.1 M980.5,251.4 V234.7 M981.5,251.4 V233.3 M982.5,251.4 V236.5 M983.5,251.4 V237.1 M984.5,251.4 V244.0 M985.5,251.4 V234.8 M986.5,251.4 V241.8 M987.5,251.4 V241.9 M988.5,251.4 V237.3 M989.5,251.4 V243.9 M990.5,251.4 V233.9 M991.5,251.4 V236.5 M992.5,251.4 V234.7 M993.5,251.4 V234.6 M994.5,251.4 V233.5 M995.5,251.4 V237.6 M996.5,251.4 V236.9 M997.5,251.4 V239.8 M998.5,251.4 V241.0 M999.5,251.4 V233.7 M1000.5,251.4 V235.9 M1001.5,251.4 V235.3 M1002.5,251.4 V235.1 M1003.5,251.4 V235.0" stroke="#000" stroke-width="1.0" fill="none" shape-rendering="crispEdges"/>
<path d="M808.2,251 L813.6,251 L810.9,243.5 Z M819.2,251 L824.6,251 L821.9,243.5 Z M830.2,251 L835.6,251 L832.9,243.5 Z M841.2,251 L846.6,251 L843.9,243.5 Z M852.2,251 L857.6,251 L854.9,243.5 Z M863.2,251 L868.6,251 L865.9,243.5 Z M874.2,251 L879.6,251 L876.9,243.5 Z M885.2,251 L890.6,251 L887.9,243.5 Z M896.2,251 L901.6,251 L898.9,243.5 Z M907.2,251 L912.6,251 L909.9,243.5 Z M918.2,251 L923.6,251 L920.9,243.5 Z M929.2,251 L934.6,251 L931.9,243.5 Z M940.2,251 L945.6,251 L942.9,243.5 Z M951.2,251 L956.6,251 L953.9,243.5 Z M962.2,251 L967.6,251 L964.9,243.5 Z M973.2,251 L978.6,251 L975.9,243.5 Z M984.2,251 L989.6,251 L986.9,243.5 Z M995.2,251 L1000.6,251 L997.9,243.5 Z" stroke="#000" stroke-width="0" fill="#fff" />
<path d="M918,245h1v2h-1z M843,240h1v1h-1z M971,247h1v1h-1z M835,240h1v2h-1z M985,242h1v1h-1z M840,248h1v2h-1z M973,249h1v1h-1z M939,247h1v1h-1z M829,244h1v1h-1z M817,237h1v2h-1z M968,245h1v2h-1z M934,239h1v1h-1z M858,238h1v1h-1z M855,239h1v1h-1z M983,238h1v2h-1z M826,239h1v2h-1z M929,238h1v1h-1z M894,243h1v1h-1z M920,245h1v1h-1z M921,240h1v2h-1z M906,237h1v2h-1z M990,237h1v1h-1z M857,243h1v1h-1z M903,248h1v1h-1z M914,240h1v2h-1z M853,238h1v2h-1z M814,242h1v1h-1z M991,247h1v1h-1z M956,246h1v1h-1z M940,246h1v1h-1z M877,241h1v1h-1z M1001,248h1v1h-1z M914,239h1v1h-1z M948,248h1v1h-1z M921,249h1v1h-1z M914,240h1v2h-1z M858,238h1v1h-1z M888,244h1v1h-1z M813,242h1v2h-1z M970,237h1v1h-1z M880,247h1v1h-1z M897,240h1v2h-1z M914,246h1v1h-1z M947,238h1v1h-1z M942,244h1v2h-1z M865,248h1v1h-1z M912,246h1v1h-1z M840,246h1v1h-1z M1000,240h1v1h-1z M924,243h1v2h-1z M823,249h1v1h-1z M976,243h1v1h-1z M836,241h1v1h-1z M881,242h1v2h-1z M949,245h1v1h-1z M944,246h1v1h-1z M974,244h1v2h-1z M830,245h1v2h-1z M982,249h1v1h-1z M909,239h1v1h-1z M931,239h1v1h-1z M949,246h1v2h-1z M825,243h1v1h-1z M918,241h1v2h-1z M913,246h1v1h-1z M904,245h1v1h-1z M934,247h1v1h-1z M954,241h1v2h-1z M994,248h1v1h-1z M817,237h1v1h-1z M960,237h1v2h-1z M851,243h1v2h-1z M910,237h1v1h-1z M1002,243h1v1h-1z M959,248h1v1h-1z M829,249h1v1h-1z M920,248h1v1h-1z M875,249h1v1h-1z M822,245h1v1h-1z M996,244h1v1h-1z M873,246h1v2h-1z M840,237h1v2h-1z M917,244h1v1h-1z M863,237h1v1h-1z M946,239h1v1h-1z M904,244h1v1h-1z M981,243h1v1h-1z M964,241h1v2h-1z M960,247h1v1h-1z M904,249h1v2h-1z M946,239h1v1h-1z M998,239h1v1h-1z M934,238h1v2h-1z M890,249h1v2h-1z M970,242h1v1h-1z M880,246h1v2h-1z M996,246h1v2h-1z M962,240h1v2h-1z M882,249h1v1h-1z M859,240h1v2h-1z M978,240h1v2h-1z M821,247h1v1h-1z M813,241h1v1h-1z M919,237h1v2h-1z M820,238h1v1h-1z M949,241h1v1h-1z M833,247h1v1h-1z M951,240h1v2h-1z M906,244h1v1h-1z M901,240h1v1h-1z M898,244h1v2h-1z M845,238h1v1h-1z M925,249h1v2h-1z M865,244h1v1h-1z M1002,241h1v1h-1z M849,242h1v1h-1z M978,246h1v1h-1z M885,245h1v2h-1z M858,243h1v2h-1z M905,246h1v1h-1z M929,242h1v1h-1z M950,238h1v1h-1z M955,246h1v1h-1z M986,244h1v1h-1z M813,238h1v1h-1z M865,247h1v2h-1z M831,248h1v1h-1z M937,248h1v2h-1z M894,241h1v1h-1z M867,242h1v2h-1z M996,242h1v1h-1z M841,242h1v2h-1z M923,246h1v2h-1z M986,241h1v1h-1z M946,249h1v1h-1z M928,242h1v1h-1z M913,248h1v2h-1z M874,238h1v1h-1z M904,237h1v1h-1z M984,243h1v2h-1z M910,249h1v1h-1z M1000,246h1v1h-1z M910,245h1v1h-1z M962,246h1v1h-1z M856,238h1v1h-1z M883,249h1v1h-1z M867,245h1v1h-1z M950,239h1v2h-1z M886,237h1v2h-1z M919,238h1v2h-1z M950,241h1v2h-1z M832,242h1v1h-1z M881,248h1v1h-1z M891,238h1v1h-1z M973,247h1v1h-1z M835,248h1v2h-1z M919,240h1v2h-1z M867,244h1v2h-1z M897,249h1v1h-1z M911,242h1v1h-1z M896,247h1v1h-1z M937,244h1v2h-1z M995,238h1v2h-1z M969,237h1v1h-1z M981,242h1v1h-1z M907,238h1v1h-1z M949,247h1v1h-1z M945,242h1v2h-1z M813,249h1v1h-1z M918,243h1v1h-1z M873,248h1v1h-1z M973,243h1v2h-1z M853,242h1v1h-1z M910,243h1v2h-1z M885,241h1v1h-1z M931,241h1v2h-1z M840,241h1v2h-1z M850,249h1v1h-1z M826,249h1v1h-1z M815,246h1v1h-1z M820,242h1v1h-1z M861,239h1v1h-1z M866,246h1v1h-1z M964,248h1v1h-1z M963,245h1v1h-1z M924,239h1v1h-1z M914,239h1v1h-1z M971,245h1v2h-1z M933,241h1v1h-1z M914,242h1v2h-1z M951,249h1v1h-1z M934,240h1v1h-1z M823,240h1v1h-1z M909,245h1v2h-1z M881,249h1v1h-1z M979,240h1v1h-1z M931,242h1v1h-1z M874,248h1v1h-1z M966,239h1v1h-1z M851,249h1v1h-1z M848,241h1v2h-1z M844,247h1v2h-1z M969,241h1v2h-1z M947,237h1v1h-1z M957,249h1v1h-1z M811,240h1v1h-1z M843,238h1v1h-1z M880,246h1v2h-1z M946,238h1v1h-1z M988,244h1v1h-1z M1002,246h1v2h-1z M940,241h1v1h-1z M859,243h1v1h-1z M985,238h1v1h-1z M864,237h1v2h-1z M916,245h1v1h-1z M851,241h1v1h-1z M890,243h1v1h-1z M953,241h1v1h-1z M981,248h1v1h-1z" stroke="#000" stroke-width="0" fill="#fff" shape-rendering="crispEdges"/>
<line x1="809.6" y1="251.6" x2="1004" y2="251.6" stroke="#000" stroke-width="2.2" />
<line x1="1008.6" y1="222.2" x2="999.5" y2="265" stroke="#000" stroke-width="1" />
<line x1="750" y1="295.6" x2="993" y2="295.6" stroke="#000" stroke-width="1" />
<line x1="750" y1="297.8" x2="993" y2="297.8" stroke="#000" stroke-width="1" />
<line x1="760" y1="304.4" x2="818.8" y2="304.4" stroke="#000" stroke-width="0.9" />
<line x1="822" y1="332.2" x2="993" y2="332.2" stroke="#000" stroke-width="1" />
<line x1="822" y1="336" x2="993" y2="336" stroke="#000" stroke-width="1" />
<ellipse cx="852.2" cy="315.3" rx="25" ry="17" fill="none" stroke="#000" stroke-width="0.9"/>
<ellipse cx="904.7" cy="315.3" rx="25" ry="17" fill="none" stroke="#000" stroke-width="0.9"/>
<ellipse cx="958.4" cy="315.3" rx="25" ry="17" fill="none" stroke="#000" stroke-width="0.9"/>
<line x1="823.0" y1="292.6" x2="821.7" y2="337" stroke="#000" stroke-width="1.2" />
<line x1="825.4000000000001" y1="292.6" x2="824.7" y2="337" stroke="#000" stroke-width="1.2" />
<circle cx="824.2" cy="295.5" r="2" fill="none" stroke="#000" stroke-width="1.2"/>
<circle cx="823.7" cy="334" r="2" fill="none" stroke="#000" stroke-width="1.2"/>
<line x1="985.1999999999999" y1="292.6" x2="983.9" y2="337" stroke="#000" stroke-width="1.2" />
<line x1="987.6" y1="292.6" x2="986.9" y2="337" stroke="#000" stroke-width="1.2" />
<circle cx="986.4" cy="295.5" r="2" fill="none" stroke="#000" stroke-width="1.2"/>
<circle cx="985.9" cy="334" r="2" fill="none" stroke="#000" stroke-width="1.2"/>
<polyline points="993,306 1000,304 995,330 990,334" stroke="#000" stroke-width="0.9" fill="none" />
<line x1="780.2" y1="296.5" x2="822.3" y2="333" stroke="#000" stroke-width="1" />
<line x1="783" y1="296.5" x2="824" y2="331" stroke="#000" stroke-width="1" />
<line x1="758.2" y1="258" x2="758.2" y2="392" stroke="#000" stroke-width="1" />
<rect x="757.2" y="276" width="3.8" height="114" fill="#000" stroke="none" stroke-width="1" />
<path d="M758.5,277.0h1.3v1.2h-1.3z M758.5,279.6h1.3v1.2h-1.3z M758.5,282.2h1.3v1.2h-1.3z M758.5,284.8h1.3v1.2h-1.3z M758.5,287.4h1.3v1.2h-1.3z M758.5,290.0h1.3v1.2h-1.3z M758.5,292.6h1.3v1.2h-1.3z M758.5,295.2h1.3v1.2h-1.3z M758.5,297.8h1.3v1.2h-1.3z M758.5,300.4h1.3v1.2h-1.3z M758.5,303.0h1.3v1.2h-1.3z M758.5,305.6h1.3v1.2h-1.3z M758.5,308.2h1.3v1.2h-1.3z M758.5,310.8h1.3v1.2h-1.3z M758.5,313.4h1.3v1.2h-1.3z M758.5,316.0h1.3v1.2h-1.3z M758.5,318.6h1.3v1.2h-1.3z M758.5,321.2h1.3v1.2h-1.3z M758.5,323.8h1.3v1.2h-1.3z M758.5,326.4h1.3v1.2h-1.3z M758.5,329.0h1.3v1.2h-1.3z M758.5,331.6h1.3v1.2h-1.3z M758.5,334.2h1.3v1.2h-1.3z M758.5,336.8h1.3v1.2h-1.3z M758.5,339.4h1.3v1.2h-1.3z M758.5,342.0h1.3v1.2h-1.3z M758.5,344.6h1.3v1.2h-1.3z M758.5,347.2h1.3v1.2h-1.3z M758.5,349.8h1.3v1.2h-1.3z M758.5,352.4h1.3v1.2h-1.3z M758.5,355.0h1.3v1.2h-1.3z M758.5,357.6h1.3v1.2h-1.3z M758.5,360.2h1.3v1.2h-1.3z M758.5,362.8h1.3v1.2h-1.3z M758.5,365.4h1.3v1.2h-1.3z M758.5,368.0h1.3v1.2h-1.3z M758.5,370.6h1.3v1.2h-1.3z M758.5,373.2h1.3v1.2h-1.3z M758.5,375.8h1.3v1.2h-1.3z M758.5,378.4h1.3v1.2h-1.3z M758.5,381.0h1.3v1.2h-1.3z M758.5,383.6h1.3v1.2h-1.3z M758.5,386.2h1.3v1.2h-1.3z M758.5,388.8h1.3v1.2h-1.3z" stroke="#000" stroke-width="0" fill="#fff" />
<line x1="760.6" y1="258" x2="760.6" y2="276" stroke="#000" stroke-width="0.8" />
<line x1="759.7" y1="245.6" x2="768.3" y2="239.3" stroke="#000" stroke-width="0.9" />
<line x1="766.2" y1="296" x2="766.2" y2="340" stroke="#000" stroke-width="1.6" />
<polyline points="768.3,338.5 768.3,298.3" stroke="#000" stroke-width="1" fill="none" />
<line x1="794" y1="296" x2="794" y2="340" stroke="#000" stroke-width="1" />
<rect x="766.5" y="340.3" width="28" height="39.3" fill="none" stroke="#000" stroke-width="1.6" />
<line x1="766" y1="341.2" x2="795" y2="341.2" stroke="#000" stroke-width="2" />
<line x1="799.4" y1="340.3" x2="799.4" y2="392" stroke="#000" stroke-width="1" />
<line x1="799.4" y1="340.8" x2="990" y2="340.8" stroke="#000" stroke-width="1" />
<rect x="756.8" y="389.5" width="42.7" height="3.4" fill="#000" stroke="none" stroke-width="1" />
<line x1="760.1" y1="392" x2="760.1" y2="601.7" stroke="#000" stroke-width="1.8" />
<line x1="799.7" y1="392" x2="799.7" y2="599.2" stroke="#000" stroke-width="1.8" />
<line x1="760" y1="442.4" x2="800" y2="442.4" stroke="#000" stroke-width="1" />
<line x1="760" y1="491.2" x2="800" y2="491.2" stroke="#000" stroke-width="1" />
<line x1="760" y1="540.9" x2="800" y2="540.9" stroke="#000" stroke-width="1" />
<line x1="760" y1="591" x2="800" y2="591" stroke="#000" stroke-width="1" />
<line x1="677" y1="622.1" x2="761.4" y2="601.7" stroke="#000" stroke-width="1" />
<line x1="761.4" y1="601.7" x2="761.4" y2="606.7" stroke="#000" stroke-width="1" />
<line x1="761.4" y1="606.7" x2="843.4" y2="590" stroke="#000" stroke-width="1" />
<path d="M720.4,578.1 Q721,565.7 733,565.7 L760.1,565.7" stroke="#000" stroke-width="1.6" fill="none" />
<rect x="705.5" y="577.5" width="14.9" height="5" fill="none" stroke="#000" stroke-width="1" />
<line x1="710.5" y1="582.5" x2="710.5" y2="614.1" stroke="#000" stroke-width="1.2" />
<line x1="713.5" y1="582.5" x2="713.5" y2="614.1" stroke="#000" stroke-width="1.2" />
<line x1="716.5" y1="582.5" x2="716.5" y2="614.1" stroke="#000" stroke-width="1.2" />
<line x1="720" y1="582.5" x2="720" y2="614.1" stroke="#000" stroke-width="1.2" />
<rect x="784.5" y="508.3" width="0.9" height="0.9"/>
<rect x="790.9" y="579.6" width="0.9" height="0.9"/>
<rect x="788.9" y="572.4" width="0.9" height="0.9"/>
<rect x="762.6" y="410.3" width="0.9" height="0.9"/>
<rect x="796.4" y="475.4" width="0.9" height="0.9"/>
<rect x="794.8" y="285.2" width="0.9" height="0.9"/>
<rect x="778.9" y="332.5" width="0.9" height="0.9"/>
<rect x="781.6" y="448.7" width="0.9" height="0.9"/>
<rect x="762.0" y="321.9" width="0.9" height="0.9"/>
<rect x="771.8" y="570.3" width="0.9" height="0.9"/>
<rect x="789.8" y="301.7" width="0.9" height="0.9"/>
<rect x="791.0" y="294.3" width="0.9" height="0.9"/>
<rect x="784.3" y="290.0" width="0.9" height="0.9"/>
<rect x="761.6" y="554.3" width="0.9" height="0.9"/>
<rect x="769.2" y="321.5" width="0.9" height="0.9"/>
<rect x="797.8" y="554.7" width="0.9" height="0.9"/>
<rect x="772.2" y="586.3" width="0.9" height="0.9"/>
<rect x="781.5" y="485.6" width="0.9" height="0.9"/>
<rect x="769.1" y="579.0" width="0.9" height="0.9"/>
<rect x="787.1" y="588.1" width="0.9" height="0.9"/>
<rect x="794.6" y="351.1" width="0.9" height="0.9"/>
<rect x="774.9" y="303.9" width="0.9" height="0.9"/>
<rect x="766.9" y="268.1" width="0.9" height="0.9"/>
<rect x="772.7" y="459.1" width="0.9" height="0.9"/>
<rect x="761.6" y="485.7" width="0.9" height="0.9"/>
<rect x="774.0" y="355.0" width="0.9" height="0.9"/>
<rect x="791.8" y="415.7" width="0.9" height="0.9"/>
<rect x="773.2" y="415.8" width="0.9" height="0.9"/>
<rect x="787.6" y="265.2" width="0.9" height="0.9"/>
<rect x="797.6" y="253.1" width="0.9" height="0.9"/>
<rect x="789.2" y="544.9" width="0.9" height="0.9"/>
<rect x="762.2" y="524.6" width="0.9" height="0.9"/>
<rect x="775.0" y="450.4" width="0.9" height="0.9"/>
<rect x="761.8" y="261.6" width="0.9" height="0.9"/>
<rect x="768.2" y="584.1" width="0.9" height="0.9"/>
<rect x="768.8" y="513.3" width="0.9" height="0.9"/>
<rect x="795.9" y="579.4" width="0.9" height="0.9"/>
<rect x="774.2" y="371.0" width="0.9" height="0.9"/>
<rect x="780.9" y="520.3" width="0.9" height="0.9"/>
<rect x="765.5" y="510.7" width="0.9" height="0.9"/>
<rect x="791.0" y="550.2" width="0.9" height="0.9"/>
<rect x="762.9" y="580.8" width="0.9" height="0.9"/>
<rect x="764.9" y="366.0" width="0.9" height="0.9"/>
<rect x="784.1" y="570.9" width="0.9" height="0.9"/>
<rect x="774.1" y="573.1" width="0.9" height="0.9"/>
<rect x="781.7" y="355.9" width="0.9" height="0.9"/>
<rect x="773.2" y="308.0" width="0.9" height="0.9"/>
<rect x="764.4" y="297.8" width="0.9" height="0.9"/>
<rect x="787.0" y="598.8" width="0.9" height="0.9"/>
<rect x="767.5" y="262.2" width="0.9" height="0.9"/>
<rect x="798.0" y="434.4" width="0.9" height="0.9"/>
<rect x="776.5" y="329.3" width="0.9" height="0.9"/>
<rect x="783.5" y="538.3" width="0.9" height="0.9"/>
<rect x="778.4" y="394.7" width="0.9" height="0.9"/>
<rect x="763.6" y="570.2" width="0.9" height="0.9"/>
<rect x="762.7" y="420.2" width="0.9" height="0.9"/>
<rect x="792.5" y="291.4" width="0.9" height="0.9"/>
<rect x="788.6" y="582.2" width="0.9" height="0.9"/>
<rect x="784.8" y="524.7" width="0.9" height="0.9"/>
<rect x="765.4" y="399.3" width="0.9" height="0.9"/>
<rect x="767.0" y="544.9" width="0.9" height="0.9"/>
<rect x="772.4" y="405.9" width="0.9" height="0.9"/>
<rect x="798.5" y="547.5" width="0.9" height="0.9"/>
<rect x="797.6" y="406.0" width="0.9" height="0.9"/>
<rect x="779.6" y="504.0" width="0.9" height="0.9"/>
<rect x="779.2" y="348.3" width="0.9" height="0.9"/>
<rect x="776.4" y="297.0" width="0.9" height="0.9"/>
<rect x="775.4" y="595.9" width="0.9" height="0.9"/>
<rect x="797.0" y="467.6" width="0.9" height="0.9"/>
<rect x="780.0" y="365.2" width="0.9" height="0.9"/>
<rect x="764.8" y="341.7" width="0.9" height="0.9"/>
<rect x="790.4" y="552.9" width="0.9" height="0.9"/>
<rect x="774.9" y="524.0" width="0.9" height="0.9"/>
<rect x="790.2" y="491.6" width="0.9" height="0.9"/>
<rect x="786.1" y="514.7" width="0.9" height="0.9"/>
<rect x="774.9" y="495.1" width="0.9" height="0.9"/>
<rect x="771.9" y="417.4" width="0.9" height="0.9"/>
<rect x="790.0" y="490.3" width="0.9" height="0.9"/>
<rect x="772.4" y="580.7" width="0.9" height="0.9"/>
<rect x="785.5" y="451.1" width="0.9" height="0.9"/>
<rect x="761.9" y="439.2" width="0.9" height="0.9"/>
<rect x="770.8" y="483.4" width="0.9" height="0.9"/>
<rect x="778.6" y="534.9" width="0.9" height="0.9"/>
<rect x="785.5" y="528.2" width="0.9" height="0.9"/>
<rect x="774.4" y="473.6" width="0.9" height="0.9"/>
<rect x="788.8" y="539.0" width="0.9" height="0.9"/>
<rect x="774.5" y="544.2" width="0.9" height="0.9"/>
<rect x="793.7" y="489.4" width="0.9" height="0.9"/>
<rect x="797.6" y="584.6" width="0.9" height="0.9"/>
<rect x="780.7" y="432.9" width="0.9" height="0.9"/>
<rect x="767.6" y="542.0" width="0.9" height="0.9"/>
<rect x="796.2" y="414.4" width="0.9" height="0.9"/>
<rect x="787.1" y="500.5" width="0.9" height="0.9"/>
<rect x="788.5" y="306.0" width="0.9" height="0.9"/>
<rect x="790.4" y="451.2" width="0.9" height="0.9"/>
<rect x="786.1" y="394.4" width="0.9" height="0.9"/>
<rect x="784.6" y="520.0" width="0.9" height="0.9"/>
<rect x="785.1" y="500.7" width="0.9" height="0.9"/>
<rect x="762.5" y="301.8" width="0.9" height="0.9"/>
<rect x="777.8" y="475.8" width="0.9" height="0.9"/>
<rect x="769.6" y="488.5" width="0.9" height="0.9"/>
<rect x="784.8" y="259.9" width="0.9" height="0.9"/>
<rect x="778.9" y="325.3" width="0.9" height="0.9"/>
<rect x="763.5" y="292.4" width="0.9" height="0.9"/>
<rect x="773.2" y="309.4" width="0.9" height="0.9"/>
<rect x="768.7" y="257.7" width="0.9" height="0.9"/>
<rect x="784.1" y="454.5" width="0.9" height="0.9"/>
<rect x="770.3" y="565.6" width="0.9" height="0.9"/>
<rect x="765.8" y="540.1" width="0.9" height="0.9"/>
<rect x="775.3" y="257.8" width="0.9" height="0.9"/>
<rect x="784.2" y="278.7" width="0.9" height="0.9"/>
<rect x="781.7" y="365.5" width="0.9" height="0.9"/>
<rect x="783.0" y="585.2" width="0.9" height="0.9"/>
<rect x="791.8" y="393.8" width="0.9" height="0.9"/>
<rect x="791.6" y="473.0" width="0.9" height="0.9"/>
<rect x="775.2" y="295.4" width="0.9" height="0.9"/>
<rect x="783.5" y="445.2" width="0.9" height="0.9"/>
<rect x="796.9" y="588.6" width="0.9" height="0.9"/>
<rect x="784.0" y="369.6" width="0.9" height="0.9"/>
<rect x="794.6" y="245.3" width="0.9" height="0.9"/>
<rect x="765.5" y="445.9" width="0.9" height="0.9"/>
<rect x="784.3" y="294.9" width="0.9" height="0.9"/>
<rect x="784.8" y="561.4" width="0.9" height="0.9"/>
<rect x="775.4" y="398.2" width="0.9" height="0.9"/>
<rect x="769.9" y="348.5" width="0.9" height="0.9"/>
<rect x="797.5" y="379.8" width="0.9" height="0.9"/>
<rect x="797.1" y="569.4" width="0.9" height="0.9"/>
<rect x="783.5" y="337.2" width="0.9" height="0.9"/>
<rect x="797.8" y="421.2" width="0.9" height="0.9"/>
<rect x="776.9" y="358.3" width="0.9" height="0.9"/>
<rect x="797.9" y="419.6" width="0.9" height="0.9"/>
<rect x="772.1" y="414.3" width="0.9" height="0.9"/>
<rect x="766.0" y="465.7" width="0.9" height="0.9"/>
<rect x="777.9" y="349.1" width="0.9" height="0.9"/>
<rect x="790.4" y="538.5" width="0.9" height="0.9"/>
<rect x="762.0" y="434.1" width="0.9" height="0.9"/>
<rect x="771.6" y="577.0" width="0.9" height="0.9"/>
<rect x="790.4" y="332.2" width="0.9" height="0.9"/>
<rect x="771.4" y="299.9" width="0.9" height="0.9"/>
<rect x="798.1" y="349.1" width="0.9" height="0.9"/>
<rect x="784.0" y="413.5" width="0.9" height="0.9"/>
<rect x="785.4" y="459.4" width="0.9" height="0.9"/>
<rect x="789.0" y="287.0" width="0.9" height="0.9"/>
<rect x="789.6" y="351.7" width="0.9" height="0.9"/>
<rect x="781.2" y="364.3" width="0.9" height="0.9"/>
<rect x="772.5" y="433.1" width="0.9" height="0.9"/>
<rect x="778.7" y="373.2" width="0.9" height="0.9"/>
<rect x="789.1" y="454.7" width="0.9" height="0.9"/>
<rect x="762.8" y="334.6" width="0.9" height="0.9"/>
<rect x="778.4" y="570.4" width="0.9" height="0.9"/>
<rect x="794.4" y="438.7" width="0.9" height="0.9"/>
<rect x="762.0" y="521.3" width="0.9" height="0.9"/>
<rect x="777.3" y="449.4" width="0.9" height="0.9"/>
<rect x="787.7" y="469.4" width="0.9" height="0.9"/>
<rect x="779.3" y="568.7" width="0.9" height="0.9"/>
<rect x="793.0" y="314.7" width="0.9" height="0.9"/>
<rect x="772.5" y="539.7" width="0.9" height="0.9"/>
<rect x="763.9" y="541.9" width="0.9" height="0.9"/>
<rect x="787.2" y="398.7" width="0.9" height="0.9"/>
<rect x="772.1" y="522.2" width="0.9" height="0.9"/>
<rect x="795.2" y="295.7" width="0.9" height="0.9"/>
<rect x="779.2" y="439.9" width="0.9" height="0.9"/>
<rect x="779.9" y="362.4" width="0.9" height="0.9"/>
<rect x="767.2" y="453.0" width="0.9" height="0.9"/>
<rect x="791.5" y="269.3" width="0.9" height="0.9"/>
<rect x="770.0" y="536.0" width="0.9" height="0.9"/>
<rect x="790.8" y="480.6" width="0.9" height="0.9"/>
<rect x="762.4" y="501.5" width="0.9" height="0.9"/>
<rect x="797.7" y="599.4" width="0.9" height="0.9"/>
<rect x="787.4" y="262.4" width="0.9" height="0.9"/>
<rect x="792.7" y="322.8" width="0.9" height="0.9"/>
<rect x="785.4" y="583.0" width="0.9" height="0.9"/>
<rect x="787.9" y="292.8" width="0.9" height="0.9"/>
<rect x="772.3" y="570.9" width="0.9" height="0.9"/>
<rect x="767.0" y="461.8" width="0.9" height="0.9"/>
<rect x="776.8" y="302.2" width="0.9" height="0.9"/>
<rect x="784.5" y="260.5" width="0.9" height="0.9"/>
<rect x="765.5" y="379.6" width="0.9" height="0.9"/>
<rect x="764.2" y="265.4" width="0.9" height="0.9"/>
<rect x="782.8" y="508.5" width="0.9" height="0.9"/>
<rect x="794.0" y="292.7" width="0.9" height="0.9"/>
<rect x="777.5" y="356.7" width="0.9" height="0.9"/>
<rect x="783.7" y="418.8" width="0.9" height="0.9"/>
<rect x="796.2" y="377.8" width="0.9" height="0.9"/>
<rect x="763.6" y="492.5" width="0.9" height="0.9"/>
<rect x="767.1" y="469.1" width="0.9" height="0.9"/>
<rect x="780.2" y="568.2" width="0.9" height="0.9"/>
<rect x="782.0" y="465.4" width="0.9" height="0.9"/>
<rect x="771.2" y="440.8" width="0.9" height="0.9"/>
<rect x="770.9" y="511.5" width="0.9" height="0.9"/>
<rect x="780.6" y="292.5" width="0.9" height="0.9"/>
<rect x="770.2" y="376.8" width="0.9" height="0.9"/>
<rect x="788.8" y="308.7" width="0.9" height="0.9"/>
<rect x="787.9" y="477.5" width="0.9" height="0.9"/>
<rect x="764.7" y="482.1" width="0.9" height="0.9"/>
<rect x="764.9" y="289.3" width="0.9" height="0.9"/>
<rect x="783.5" y="329.7" width="0.9" height="0.9"/>
<rect x="793.9" y="415.6" width="0.9" height="0.9"/>
<rect x="773.5" y="527.7" width="0.9" height="0.9"/>
<rect x="762.6" y="502.4" width="0.9" height="0.9"/>
<rect x="763.5" y="298.5" width="0.9" height="0.9"/>
<rect x="796.7" y="486.8" width="0.9" height="0.9"/>
<rect x="769.8" y="286.2" width="0.9" height="0.9"/>
<rect x="797.5" y="481.1" width="0.9" height="0.9"/>
<rect x="791.9" y="294.6" width="0.9" height="0.9"/>
<rect x="784.6" y="370.8" width="0.9" height="0.9"/>
<rect x="770.2" y="363.3" width="0.9" height="0.9"/>
<rect x="784.2" y="368.8" width="0.9" height="0.9"/>
<rect x="775.8" y="293.4" width="0.9" height="0.9"/>
<rect x="792.3" y="475.0" width="0.9" height="0.9"/>
<rect x="791.3" y="398.9" width="0.9" height="0.9"/>
<rect x="793.0" y="428.7" width="0.9" height="0.9"/>
<rect x="783.4" y="448.5" width="0.9" height="0.9"/>
<rect x="765.1" y="256.8" width="0.9" height="0.9"/>
<rect x="769.0" y="259.0" width="0.9" height="0.9"/>
<rect x="794.4" y="415.8" width="0.9" height="0.9"/>
<rect x="789.6" y="245.2" width="0.9" height="0.9"/>
<rect x="778.9" y="560.9" width="0.9" height="0.9"/>
<rect x="784.4" y="397.2" width="0.9" height="0.9"/>
<rect x="778.7" y="280.4" width="0.9" height="0.9"/>
<rect x="767.2" y="301.5" width="0.9" height="0.9"/>
<rect x="794.1" y="299.0" width="0.9" height="0.9"/>
<rect x="770.9" y="343.5" width="0.9" height="0.9"/>
<rect x="767.5" y="346.9" width="0.9" height="0.9"/>
<rect x="770.2" y="416.1" width="0.9" height="0.9"/>
<rect x="762.7" y="573.2" width="0.9" height="0.9"/>
<rect x="775.2" y="578.0" width="0.9" height="0.9"/>
<rect x="786.9" y="484.2" width="0.9" height="0.9"/>
<rect x="779.0" y="580.6" width="0.9" height="0.9"/>
<rect x="765.9" y="482.3" width="0.9" height="0.9"/>
<rect x="772.3" y="484.4" width="0.9" height="0.9"/>
<rect x="788.5" y="302.9" width="0.9" height="0.9"/>
<rect x="768.9" y="253.9" width="0.9" height="0.9"/>
<rect x="770.0" y="272.8" width="0.9" height="0.9"/>
<rect x="776.3" y="590.6" width="0.9" height="0.9"/>
<rect x="775.0" y="355.7" width="0.9" height="0.9"/>
<rect x="778.8" y="345.5" width="0.9" height="0.9"/>
<rect x="788.6" y="499.9" width="0.9" height="0.9"/>
<rect x="767.5" y="330.4" width="0.9" height="0.9"/>
<rect x="786.4" y="578.9" width="0.9" height="0.9"/>
<rect x="785.4" y="397.9" width="0.9" height="0.9"/>
<rect x="797.6" y="247.2" width="0.9" height="0.9"/>
<rect x="763.8" y="521.6" width="0.9" height="0.9"/>
<rect x="776.7" y="261.0" width="0.9" height="0.9"/>
<rect x="781.8" y="596.3" width="0.9" height="0.9"/>
<rect x="780.7" y="369.3" width="0.9" height="0.9"/>
<rect x="765.0" y="270.3" width="0.9" height="0.9"/>
<rect x="794.8" y="419.4" width="0.9" height="0.9"/>
<rect x="796.1" y="264.1" width="0.9" height="0.9"/>
<rect x="770.5" y="262.9" width="0.9" height="0.9"/>
<rect x="776.2" y="266.3" width="0.9" height="0.9"/>
<rect x="772.8" y="263.2" width="0.9" height="0.9"/>
<rect x="762.9" y="589.9" width="0.9" height="0.9"/>
<line x1="901.7" y1="333" x2="901.7" y2="452" stroke="#000" stroke-width="1" />
<line x1="908.5" y1="336" x2="908.5" y2="452" stroke="#000" stroke-width="1" />
<polyline points="905.6,344.3 919.8,344.3 919.8,351.3 996.3,351.3" stroke="#000" stroke-width="1" fill="none" />
<line x1="990.6" y1="337" x2="981" y2="378" stroke="#000" stroke-width="1" />
<circle cx="909" cy="391.4" r="1.3"/>
<line x1="909.5" y1="391.4" x2="987.2" y2="391.4" stroke="#000" stroke-width="1" />
<line x1="908.2" y1="431.1" x2="1014.5" y2="431.1" stroke="#000" stroke-width="1" />
<line x1="800.6" y1="451.8" x2="949.6" y2="451.8" stroke="#000" stroke-width="1" />
<line x1="800.6" y1="455" x2="949.6" y2="455" stroke="#000" stroke-width="1" />
<line x1="800.6" y1="458.8" x2="949.6" y2="458.8" stroke="#000" stroke-width="1.8" />
<line x1="800.6" y1="461.7" x2="949.6" y2="461.7" stroke="#000" stroke-width="1" />
<line x1="949.6" y1="449" x2="949.6" y2="463" stroke="#000" stroke-width="1" />
<polyline points="868,470.5 904.3,470.5 904.3,462" stroke="#000" stroke-width="1" fill="none" />
<polyline points="928.9,458.3 928.9,480.4 1014.5,480.4" stroke="#000" stroke-width="1" fill="none" />
<polyline points="922.4,461 922.4,493.9 1016,493.9" stroke="#000" stroke-width="1" fill="none" />
<circle cx="928.9" cy="458.3" r="1.3"/><circle cx="922.4" cy="461" r="1.3"/>
<polyline points="821.3,418.2 788.9,455.7 800,455.7" stroke="#000" stroke-width="1" fill="none" />
<polyline points="821.3,431 800.6,451.9" stroke="#000" stroke-width="1" fill="none" />
<rect x="796" y="452" width="6" height="4" fill="#000" stroke="none" stroke-width="1" />
<line x1="799.3" y1="491.2" x2="812" y2="491.2" stroke="#000" stroke-width="1" />
<line x1="791.2" y1="514.3" x2="810.6" y2="514.3" stroke="#000" stroke-width="1" />
<line x1="799.9" y1="540.9" x2="816.5" y2="540.9" stroke="#000" stroke-width="1" />
<line x1="688.9" y1="594.8" x2="760" y2="594.8" stroke="#000" stroke-width="1" />
<line x1="690" y1="607.2" x2="711.7" y2="607.2" stroke="#000" stroke-width="1" />
<rect x="749.8" y="486" width="1" height="5" fill="#000" stroke="none" stroke-width="1" />
<line x1="694" y1="263.9" x2="766" y2="263.9" stroke="#000" stroke-width="0.9" />
<line x1="701" y1="275.9" x2="766" y2="275.9" stroke="#000" stroke-width="0.9" />
<line x1="704" y1="294.9" x2="766" y2="294.9" stroke="#000" stroke-width="0.9" />
<line x1="704" y1="304.6" x2="766" y2="304.6" stroke="#000" stroke-width="0.9" />
<line x1="704" y1="318" x2="766" y2="318" stroke="#000" stroke-width="0.9" />
<line x1="704" y1="340" x2="766" y2="340" stroke="#000" stroke-width="0.9" />
<line x1="705" y1="351" x2="766" y2="351" stroke="#000" stroke-width="0.9" />
<line x1="705" y1="371.7" x2="766" y2="371.7" stroke="#000" stroke-width="0.9" />
<line x1="710" y1="391.2" x2="766" y2="391.2" stroke="#000" stroke-width="0.9" />
<line x1="743" y1="382.4" x2="766" y2="382.4" stroke="#000" stroke-width="0.9" />
<text class="c" x="696" y="261.5" font-size="4.9" textLength="45.7" lengthAdjust="spacingAndGlyphs" >Vigacierre H° A°</text>
<text class="c" x="701.5" y="275.2" font-size="4.9" textLength="48.5" lengthAdjust="spacingAndGlyphs" >Carpeta M.C. 1:3</text>
<text class="c" x="664.9" y="286.8" font-size="4.9" textLength="81.7" lengthAdjust="spacingAndGlyphs" >Armadura Losa Longitudinal +</text>
<text class="c" x="683" y="294.1" font-size="4.9" textLength="63.6" lengthAdjust="spacingAndGlyphs" >Transversal Φ s/ calculo</text>
<text class="c" x="673.4" y="304" font-size="4.9" textLength="73.2" lengthAdjust="spacingAndGlyphs" >Losa H°A° alivianada c/</text>
<text class="c" x="668.5" y="316.8" font-size="4.9" textLength="76.9" lengthAdjust="spacingAndGlyphs" >Barra doblada Φ s/ calculo p/</text>
<text class="c" x="669.8" y="324.1" font-size="4.9" textLength="76.8" lengthAdjust="spacingAndGlyphs" >absorber esfuerzos de corte</text>
<text class="c" x="666" y="338.3" font-size="4.9" textLength="74.5" lengthAdjust="spacingAndGlyphs" >Viga de H° A° 20 cm x 15cm</text>
<text class="c" x="668.5" y="349.3" font-size="4.9" textLength="73.2" lengthAdjust="spacingAndGlyphs" >Armadura-porchos-estribos</text>
<text class="c" x="717.3" y="356.6" font-size="4.9" textLength="24.4" lengthAdjust="spacingAndGlyphs" >s/ calculo</text>
<text class="c" x="644.9" y="369.3" font-size="4.9" textLength="95.0" lengthAdjust="spacingAndGlyphs" >Malla plastica p/ absorber diferentes</text>
<text class="c" x="708.8" y="377" font-size="4.9" textLength="30.5" lengthAdjust="spacingAndGlyphs" >dilataciones</text>
<text class="c" x="691.7" y="382.7" font-size="4.9" textLength="47.6" lengthAdjust="spacingAndGlyphs" >Pantalla hidraulica</text>
<text class="c" x="720.5" y="390.5" font-size="4.9" textLength="22.5" lengthAdjust="spacingAndGlyphs" >Gotorón</text>
<text class="c" x="813" y="360.6" font-size="4.9" textLength="60.2" lengthAdjust="spacingAndGlyphs" >Bloque en U HCCA retak</text>
<text class="c" x="813" y="370.2" font-size="4.9" textLength="50.0" lengthAdjust="spacingAndGlyphs" >200 x 300 x 250  mm</text>
<text class="c" x="804.4" y="470" font-size="4.9" textLength="17.0" lengthAdjust="spacingAndGlyphs" >Buñas</text>
<text class="c" x="818" y="493.3" font-size="4.9" textLength="58.3" lengthAdjust="spacingAndGlyphs" >Mortero Adhesivo Retak</text>
<text class="c" x="818" y="512.3" font-size="4.9" textLength="57.0" lengthAdjust="spacingAndGlyphs" >Bloque de HCCA retak</text>
<text class="c" x="818" y="521" font-size="4.9" textLength="50.0" lengthAdjust="spacingAndGlyphs" >200 x 300 x 250  mm</text>
<text class="c" x="821" y="541.3" font-size="4.9" textLength="11.0" lengthAdjust="spacingAndGlyphs" >Yeso</text>
<text class="c" x="821" y="548.3" font-size="4.9" textLength="47.0" lengthAdjust="spacingAndGlyphs" >Espesor: min 5 mm</text>
<text class="c" x="633" y="578.1" font-size="4.9" textLength="52.6" lengthAdjust="spacingAndGlyphs" >Revoque fibrado retak</text>
<text class="c" x="633" y="585.6" font-size="4.9" textLength="48.0" lengthAdjust="spacingAndGlyphs" >Espesor: min 5 mm</text>
<text class="c" x="606.9" y="596.7" font-size="4.9" textLength="77.5" lengthAdjust="spacingAndGlyphs" >Terminación Pintura color Negro</text>
<text class="c" x="613.6" y="609.2" font-size="4.9" textLength="73.3" lengthAdjust="spacingAndGlyphs" >DVH Doble vidriado hermético</text>
<text class="b" x="923.7" y="347.6" font-size="9" textLength="70.0" lengthAdjust="spacingAndGlyphs" >Montante 34mm c/</text>
<text class="b" x="973" y="357.2" font-size="9" textLength="22.0" lengthAdjust="spacingAndGlyphs" >0.40m</text>
<text class="b" x="936.2" y="388.3" font-size="9" textLength="69.2" lengthAdjust="spacingAndGlyphs" >vela rígida c/ 0.56m</text>
<text class="b" x="823.9" y="422" font-size="9" textLength="25.4" lengthAdjust="spacingAndGlyphs" >MC: 1:3</text>
<text class="b" x="826.5" y="433.5" font-size="9" textLength="23.3" lengthAdjust="spacingAndGlyphs" >fijación</text>
<text class="b" x="927.6" y="429.8" font-size="9" textLength="70.0" lengthAdjust="spacingAndGlyphs" >Montante 34mm c/</text>
<text class="b" x="975.6" y="438.9" font-size="9" textLength="22.0" lengthAdjust="spacingAndGlyphs" >0.40m</text>
<text class="b" x="868" y="449.8" font-size="9" textLength="24.0" lengthAdjust="spacingAndGlyphs" >solera</text>
<text class="b" x="868" y="470" font-size="9" textLength="33.7" lengthAdjust="spacingAndGlyphs" >tornillo T2</text>
<text class="b" x="943.9" y="471.3" font-size="9" textLength="65.4" lengthAdjust="spacingAndGlyphs" >Montante maestra</text>
<text class="b" x="954.8" y="480.9" font-size="9" textLength="55.8" lengthAdjust="spacingAndGlyphs" >34mm c/ 1.20m</text>
<text class="b" x="941.9" y="493.3" font-size="9" textLength="73.8" lengthAdjust="spacingAndGlyphs" >Placa de yeso durlok</text>
</svg></body></html>
